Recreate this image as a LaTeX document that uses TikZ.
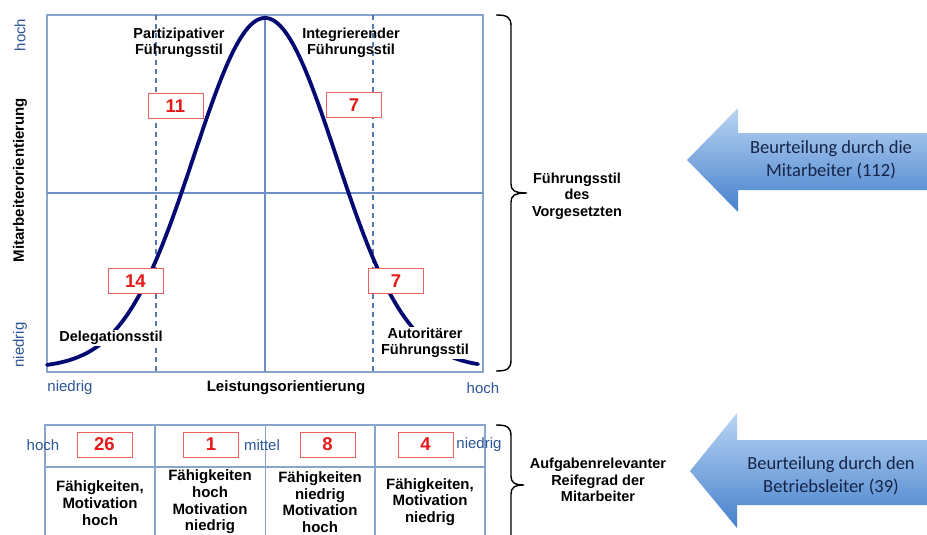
\documentclass[tikz,border=0pt]{standalone}
\usepackage{fontspec}
\setmainfont{Liberation Sans}
\newfontfamily\calibfont{Carlito}
\begin{document}
\begin{tikzpicture}[x=1pt,y=-1pt]
  % colours
  \definecolor{gridblue}{RGB}{135,165,205}
  \definecolor{midblue}{RGB}{110,145,195}
  \definecolor{dashblue}{RGB}{85,120,175}
  \definecolor{labelblue}{RGB}{45,85,150}
  \definecolor{curvenavy}{RGB}{5,10,115}
  \definecolor{numred}{RGB}{230,25,25}
  \definecolor{boxred}{RGB}{235,95,95}
  \definecolor{arrowtop}{RGB}{185,213,243}
  \definecolor{arrowbot}{RGB}{70,128,204}
  \definecolor{arrowtxt}{RGB}{22,36,72}
  \tikzset{
    gridline/.style={draw=gridblue, line width=1.5pt},
    midline/.style={draw=midblue, line width=1.6pt},
    thinline/.style={draw=gridblue, line width=1pt},
    dashline/.style={draw=dashblue, line width=1.1pt, dash pattern=on 5pt off 4pt},
    bellcurve/.style={draw=curvenavy, line width=3.8pt, line cap=round},
    lbl/.style={font=\bfseries\fontsize{14.5}{16.5}\selectfont, align=center, inner sep=1pt},
    celllbl/.style={lbl, font=\bfseries\fontsize{15}{16.7}\selectfont},
    whitelbl/.style={lbl, fill=white},
    bluelbl/.style={font=\fontsize{15}{17}\selectfont, text=labelblue, inner sep=0pt},
    numbox/.style={draw=boxred, line width=1pt, fill=white, text=numred,
      font=\bfseries\fontsize{18.5}{18.5}\selectfont, minimum width=55pt,
      minimum height=25pt, inner sep=0pt},
    bracepath/.style={draw=black, line width=1.4pt},
    arrowfill/.style={top color=arrowtop, bottom color=arrowbot},
    arrowtext/.style={font=\calibfont\fontsize{18.5}{23}\selectfont, text=arrowtxt,
      align=center, inner sep=0pt},
  }
  \useasboundingbox (0,0) rectangle (927,535);
  \fill[white] (0,0) rectangle (927,535);

  % ---------- upper chart: quadrants ----------
  \draw[gridline] (47,15) rectangle (483,372);
  \draw[midline] (47,193) -- (483,193);
  \draw[midline] (265,15) -- (265,372);
  \draw[dashline] (156,15) -- (156,372);
  \draw[dashline] (373,15) -- (373,372);

  % bell-shaped curve of leadership styles
  \draw[bellcurve] plot[domain=47:478, samples=160, smooth]
    (\x, {368 - 350*exp(-0.5*((\x-265)/71)*((\x-265)/71))});

  % style names
  \node[lbl] (partiz) at (179,43) {Partizipativer\\Führungsstil};
  \node[lbl] (integr) at (351,43) {Integrierender\\Führungsstil};
  \node[whitelbl] (deleg) at (111,338) {Delegationsstil};
  \node[whitelbl] (autor) at (425,343) {Autoritärer\\Führungsstil};

  % counts per style
  \node[numbox] (nPartiz) at (175.5,106) {11};
  \node[numbox] (nIntegr) at (354,105) {7};
  \node[numbox] (nDeleg) at (135.5,281) {14};
  \node[numbox] (nAutor) at (396,281) {7};

  % axes
  \node[bluelbl, rotate=90] (yHoch) at (20,35) {hoch};
  \node[bluelbl, rotate=90] (yNiedrig) at (20,345) {niedrig};
  \node[lbl, rotate=90, font=\bfseries\fontsize{15}{17}\selectfont] (yTitle) at (20,180) {Mitarbeiterorientierung};
  \node[bluelbl] (xNiedrig) at (70,388) {niedrig};
  \node[lbl, font=\bfseries\fontsize{15}{17}\selectfont] (xTitle) at (286,388) {Leistungsorientierung};
  \node[bluelbl] (xHoch) at (483,388) {hoch};

  % brace for the upper chart
  \draw[bracepath] (496,15) .. controls (507,15) and (511,17) .. (511,26)
    -- (511,184) .. controls (511,190) and (514,193) .. (527,193)
    .. controls (514,193) and (511,196) .. (511,202)
    -- (511,360) .. controls (511,369) and (507,371) .. (496,371);
  \node[lbl] (fstil) at (577,196) {Führungsstil\\des\\Vorgesetzten};

  % ---------- lower table: maturity of employees ----------
  \draw[gridline] (45,540) -- (45,425) -- (485,425) -- (485,540);
  \draw[gridline] (45,467) -- (485,467);
  \draw[gridline] (155,425) -- (155,540);
  \draw[thinline] (265,425) -- (265,540);
  \draw[gridline] (375,425) -- (375,540);

  \node[bluelbl] (tHoch) at (43,445) {hoch};
  \node[bluelbl] (tMittel) at (262,445) {mittel};
  \node[bluelbl] (tNiedrig) at (479,445) {niedrig};

  \node[numbox] (n26) at (104.5,444.5) {26};
  \node[numbox] (n1) at (211,444.5) {1};
  \node[numbox] (n8) at (327.5,444.5) {8};
  \node[numbox] (n4) at (425.5,444.5) {4};

  \node[celllbl] (c1) at (100,503) {Fähigkeiten,\\Motivation\\hoch};
  \node[celllbl] (c2) at (210,502) {Fähigkeiten\\hoch\\Motivation\\niedrig};
  \node[celllbl] (c3) at (320,502) {Fähigkeiten\\niedrig\\Motivation\\hoch};
  \node[celllbl] (c4) at (430,502) {Fähigkeiten,\\Motivation\\niedrig};

  % brace for the table
  \draw[bracepath] (496,425) .. controls (507,425) and (511,427) .. (511,436)
    -- (511,476) .. controls (511,482) and (514,485) .. (524,485)
    .. controls (514,485) and (511,488) .. (511,494)
    -- (511,545);
  \node[lbl] (reife) at (598,480) {Aufgabenrelevanter\\Reifegrad der\\Mitarbeiter};

  % ---------- block arrows ----------
  \shade[arrowfill] (687,160) -- (738,108) -- (738,133) -- (927,133)
    -- (927,190) -- (738,190) -- (738,212) -- cycle;
  \node[arrowtext] (beurtMA) at (831,160) {Beurteilung durch die\\Mitarbeiter (112)};

  \shade[arrowfill] (690,471) -- (737,413) -- (737,440) -- (927,440)
    -- (927,505) -- (737,505) -- (737,528) -- cycle;
  \node[arrowtext] (beurtBL) at (831,476) {Beurteilung durch den\\Betriebsleiter (39)};
\end{tikzpicture}
\end{document}
